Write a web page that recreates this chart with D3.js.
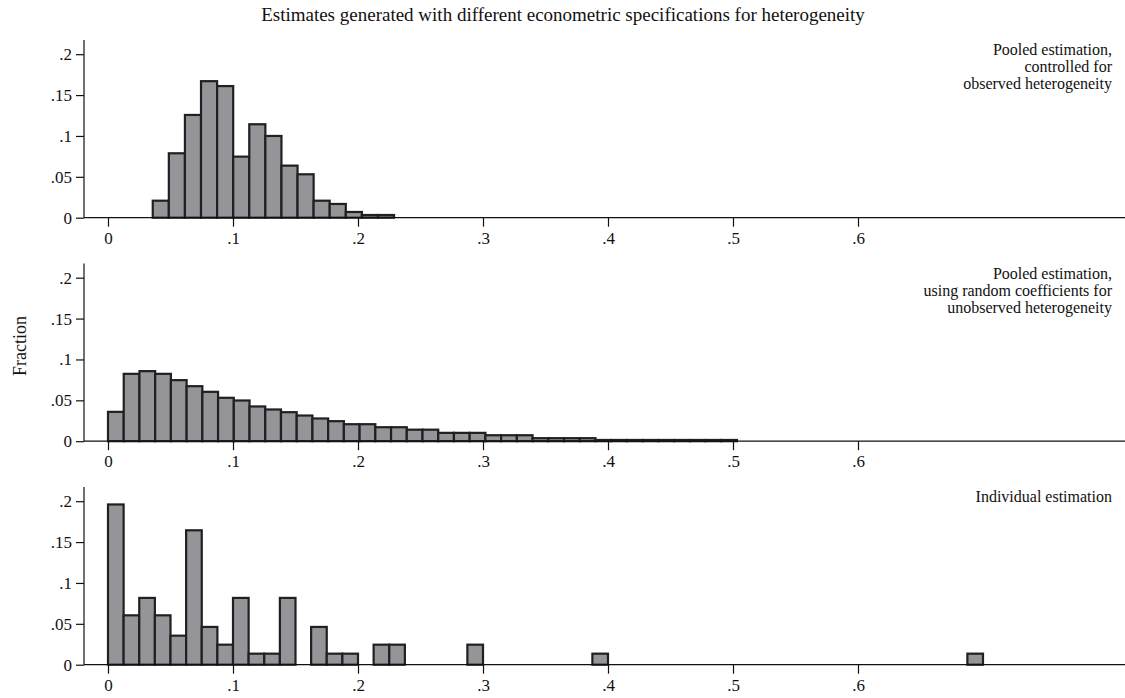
<!DOCTYPE html>
<html>
<head>
<meta charset="utf-8">
<script src="https://cdn.jsdelivr.net/npm/d3@7"></script>
<style>
  body { margin: 0; background: #fff; }
  text { font-family: "Liberation Serif", "Times New Roman", serif; fill: #111; }
</style>
</head>
<body>
<div id="chart"></div>
<script>

// Data (fraction of estimates per bin)
let xTicks = [0, 0.1, 0.2, 0.3, 0.4, 0.5, 0.6];
let yTicks = [0, 0.05, 0.1, 0.15, 0.2];

// panel 1: pooled, observed heterogeneity
let observedStart = 0.0358, observedWidth = 0.01287;
let observedFrac = [0.0208, 0.0788, 0.1257, 0.167, 0.161, 0.0747, 0.1143, 0.100,
    0.0637, 0.0531, 0.0208, 0.0168, 0.0070, 0.0033, 0.0033];

// panel 2: random coefficients
let randomStart = 0, randomWidth = 0.01258;
let randomFrac = [0.0359, 0.0824, 0.0857, 0.0824, 0.0747, 0.0673, 0.0604, 0.0531,
    0.0498, 0.0425, 0.0388, 0.0355, 0.0314, 0.0278, 0.0245, 0.0208, 0.0208, 0.0171,
    0.0171, 0.0141, 0.0141, 0.0102, 0.0102, 0.0102, 0.0073, 0.0073, 0.0073, 0.0037,
    0.0037, 0.0037, 0.0037, 0.0015, 0.0015, 0.0015, 0.0015, 0.0015, 0.0015, 0.0015,
    0.0015, 0.0015];

// panel 3: individual estimation (zero = empty bin)
let indivStart = 0, indivWidth = 0.0125;
let indivFrac = [0.196, 0.0604, 0.0817, 0.0604, 0.0355, 0.1644, 0.0462, 0.0245,
    0.0817, 0.0135, 0.0135, 0.0817, 0, 0.0462, 0.0135, 0.0135, 0, 0.0245, 0.0245,
    0, 0, 0, 0, 0.0245, 0, 0, 0, 0, 0, 0, 0, 0.0135,
    0, 0, 0, 0, 0, 0, 0, 0, 0, 0, 0, 0, 0, 0, 0, 0, 0, 0, 0, 0, 0, 0, 0, 0.0135];

let panels = [
    {start: observedStart, width: observedWidth, frac: observedFrac,
        label: ["Pooled estimation,", "controlled for", "observed heterogeneity"]},
    {start: randomStart, width: randomWidth, frac: randomFrac,
        label: ["Pooled estimation,", "using random coefficients for", "unobserved heterogeneity"]},
    {start: indivStart, width: indivWidth, frac: indivFrac,
        label: ["Individual estimation"]}
];

let width = 1125, height = 698;
let svg = d3.select("#chart").append("svg")
    .attr("width", width)
    .attr("height", height);

let axisLeft = 84, panelTop0 = 40, panelStep = 223.5, plotH = 177.7;

let x = d3.scaleLinear().domain([0, 0.1]).range([108, 233]);

// title
svg.append("text")
    .attr("x", 563).attr("y", 21)
    .attr("text-anchor", "middle")
    .style("font-size", "19px")
    .text("Estimates generated with different econometric specifications for heterogeneity");

// y title
svg.append("text")
    .attr("transform", "translate(26,346) rotate(-90)")
    .attr("text-anchor", "middle")
    .style("font-size", "18px")
    .text("Fraction");

panels.forEach((p, i) => {
    let top = panelTop0 + i * panelStep;
    let base = top + plotH;
    let y = d3.scaleLinear().domain([0, 0.2]).range([base, base - 163.5]);

    let g = svg.append("g");

    // bars
    let bins = p.frac.map((f, k) => ({x0: p.start + k * p.width, x1: p.start + (k + 1) * p.width, f: f}))
        .filter(d => d.f > 0);

    g.selectAll("rect")
        .data(bins)
        .enter().append("rect")
        .attr("x", d => x(d.x0))
        .attr("y", d => y(d.f))
        .attr("width", d => x(d.x1) - x(d.x0))
        .attr("height", d => y(0) - y(d.f))
        .attr("fill", "#939598")
        .attr("stroke", "#231f20")
        .attr("stroke-width", 2.2);

    // x axis
    let xAxis = d3.axisBottom(x)
        .tickValues(xTicks)
        .tickSize(9)
        .tickPadding(5)
        .tickFormat(d => d === 0 ? "0" : d3.format(".1f")(d).replace(/^0/, ""));

    let xg = g.append("g")
        .attr("transform", "translate(0," + base + ")")
        .call(xAxis);
    xg.select(".domain").remove();
    xg.append("line")
        .attr("x1", axisLeft).attr("x2", width)
        .attr("stroke", "#111").attr("stroke-width", 1.2);
    xg.selectAll(".tick line").attr("stroke", "#111").attr("stroke-width", 1.2);
    xg.selectAll("text").style("font-size", "17px").attr("fill", "#111");

    // y axis
    let yAxis = d3.axisLeft(y)
        .tickValues(yTicks)
        .tickSize(8)
        .tickPadding(4)
        .tickFormat(d => d === 0 ? "0" : d3.format(".2~f")(d).replace(/^0/, ""));

    let yg = g.append("g")
        .attr("transform", "translate(" + axisLeft + ",0)")
        .call(yAxis);
    yg.select(".domain").remove();
    yg.append("line")
        .attr("y1", top).attr("y2", base)
        .attr("stroke", "#111").attr("stroke-width", 1.2);
    yg.selectAll(".tick line").attr("stroke", "#111").attr("stroke-width", 1.2);
    yg.selectAll("text").style("font-size", "17px").attr("fill", "#111");

    // panel caption
    g.append("text")
        .attr("text-anchor", "end")
        .style("font-size", "16px")
        .selectAll("tspan")
        .data(p.label)
        .enter().append("tspan")
        .attr("x", 1112)
        .attr("y", (d, k) => top + 15 + k * 17)
        .text(d => d);
});

</script>
</body>
</html>
